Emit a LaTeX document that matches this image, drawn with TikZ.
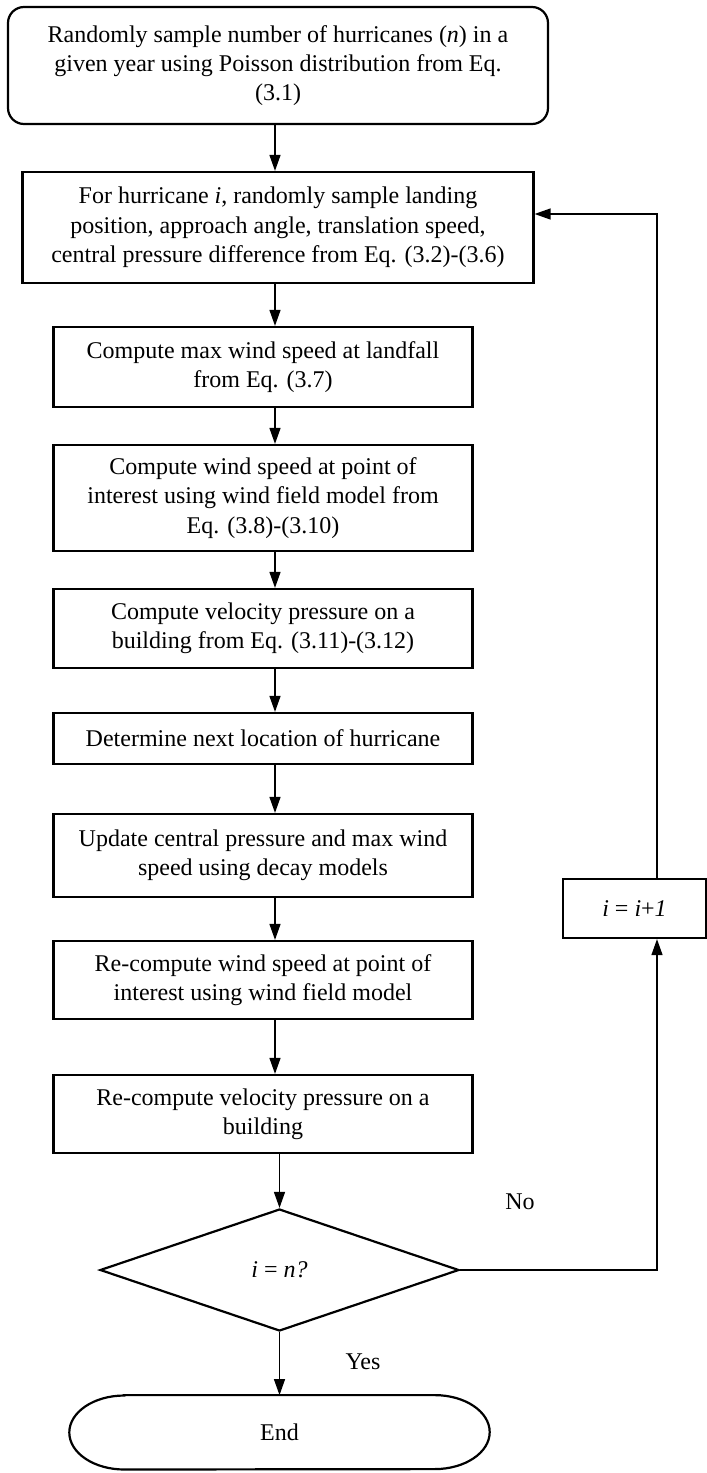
\documentclass[tikz,border=0pt]{standalone}
\usepackage{fontspec}
\setmainfont{Liberation Serif}
\usetikzlibrary{arrows.meta,positioning,shapes.geometric}
\tikzset{
  box/.style={draw,line width=2.2pt,align=center,inner sep=0pt,minimum width=419pt},
  startbox/.style={box,rounded corners=16pt,minimum width=540pt,minimum height=117pt},
  decbox/.style={diamond,draw,line width=2.2pt,inner sep=0pt,minimum width=359pt,minimum height=122pt},
  incbox/.style={box,minimum width=143pt,minimum height=59pt},
  ar/.style={-{Triangle[length=16pt,width=11pt]},line width=1.3pt},
}
\begin{document}
\begin{tikzpicture}[x=1pt,y=1pt,font=\fontsize{24}{29.3}\selectfont]
  \useasboundingbox (0,0) rectangle (707,-1473);
  \node[startbox] (top) at (278,-65.5) {Randomly sample number of hurricanes (\textit{n}) in a\\ given year using Poisson distribution from Eq.\\ (3.1)};
  \node[box,below=45.8pt of top,minimum width=511pt,minimum height=111pt] (b2) {For hurricane \textit{i}, randomly sample landing\\ position, approach angle, translation speed,\\ central pressure difference from Eq. (3.2)-(3.6)};
  \node[box,below=41.8pt of b2,xshift=-15pt,minimum height=80pt] (b3) {Compute max wind speed at landfall\\ from Eq. (3.7)};
  \node[box,below=35.8pt of b3,minimum height=106pt] (b4) {Compute wind speed at point of\\ interest using wind field model from\\ Eq. (3.8)-(3.10)};
  \node[box,below=35.8pt of b4,minimum height=79pt] (b5) {Compute velocity pressure on a\\ building from Eq. (3.11)-(3.12)};
  \node[box,below=42.8pt of b5,minimum height=51pt] (b6) {Determine next location of hurricane};
  \node[box,below=47.8pt of b6,minimum height=83pt] (b7) {Update central pressure and max wind\\ speed using decay models};
  \node[box,below=41.8pt of b7,minimum height=78pt] (b8) {Re-compute wind speed at point of\\ interest using wind field model};
  \node[box,below=53.8pt of b8,minimum height=78pt] (b9) {Re-compute velocity pressure on a\\ building};
  \node[decbox,below=53.8pt of b9,xshift=16.5pt] (dec) {\textit{i} = \textit{n?}};
  \node[inner sep=0pt,minimum width=310pt,minimum height=74pt,below=63pt of dec] (stop) {End};
  \draw[line width=2.2pt] (stop.north west) -- (stop.north east)
    arc[start angle=90,end angle=-90,x radius=55pt,y radius=37pt] -- (stop.south west)
    arc[start angle=270,end angle=90,x radius=55pt,y radius=37pt] -- cycle;
  \node[incbox] (inc) at (634.5,-908.5) {\textit{i} = \textit{i}+\textit{1}};
  \node (no) at (520,-1202) {No};
  \node (yes) at (363,-1362) {Yes};
  \coordinate (ax) at (275,0);
  \coordinate (rt) at (657,0);
  \draw[ar] (top.south -| ax) -- (b2.north -| ax);
  \draw[ar] (b2.south -| ax) -- (b3.north -| ax);
  \draw[ar] (b3.south -| ax) -- (b4.north -| ax);
  \draw[ar] (b4.south -| ax) -- (b5.north -| ax);
  \draw[ar] (b5.south -| ax) -- (b6.north -| ax);
  \draw[ar] (b6.south -| ax) -- (b7.north -| ax);
  \draw[ar] (b7.south -| ax) -- (b8.north -| ax);
  \draw[ar] (b8.south -| ax) -- (b9.north -| ax);
  \draw[ar] (b9.south -| dec.north) -- (dec.north);
  \draw[ar] (dec.south) -- (stop.north);
  \draw[ar] (dec.east) -| (inc.south -| rt);
  \draw[ar] (inc.north -| rt) |- ([yshift=13.5pt]b2.east);
\end{tikzpicture}
\end{document}
